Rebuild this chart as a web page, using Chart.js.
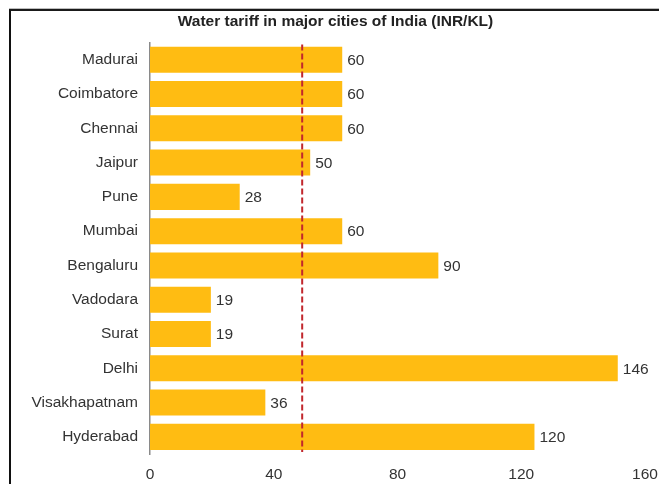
<!DOCTYPE html>
<html>
<head>
<meta charset="utf-8">
<script src="https://cdn.jsdelivr.net/npm/chart.js@4/dist/chart.umd.min.js"></script>
<style>
    html, body { margin: 0; padding: 0; background: #fff; }
    #wrap { position: relative; width: 659px; height: 484px; overflow: hidden; }
    /* page frame, left and top rules */
    #frame {
        position: absolute; left: 9px; top: 9px; width: 660px; height: 490px;
        border-left: 2px solid #111; border-top: 2px solid #1a1a1a;
        box-shadow: 0 -1px 0 #bdbdbd;
    }
    #chart { position: absolute; left: 0; top: 0; }
</style>
</head>
<body>
<div id="wrap">
    <div id="frame"></div>
    <canvas id="chart" width="659" height="484"></canvas>
</div>
<script>
const cities = ["Madurai", "Coimbatore", "Chennai", "Jaipur", "Pune", "Mumbai",
                "Bengaluru", "Vadodara", "Surat", "Delhi", "Visakhapatnam", "Hyderabad"];
const tariffs = [60, 60, 60, 50, 28, 60, 90, 19, 19, 146, 36, 120];
const axisTicks = [0, 40, 80, 120, 160];
const referenceLine = 47.5;

const FONT = "'Liberation Sans', Arial, Helvetica, sans-serif";
const BAR_COLOR = "#FFBC12";
const TEXT_COLOR = "#333333";

// value printed just past the end of each bar
const valueLabels = {
    id: 'valueLabels',
    afterDatasetsDraw(chart) {
        const ctx = chart.ctx;
        const meta = chart.getDatasetMeta(0);
        ctx.save();
        ctx.font = "15.5px " + FONT;
        ctx.fillStyle = TEXT_COLOR;
        ctx.textAlign = "left";
        ctx.textBaseline = "middle";
        meta.data.forEach((bar, i) => {
            ctx.fillText(String(tariffs[i]), bar.x + 5, bar.y + 1);
        });
        ctx.restore();
    }
};

// dashed vertical marker
const dashedMarker = {
    id: 'dashedMarker',
    afterDatasetsDraw(chart) {
        const ctx = chart.ctx;
        const area = chart.chartArea;
        const x = chart.scales.x.getPixelForValue(referenceLine);
        ctx.save();
        ctx.strokeStyle = "#C1272D";
        ctx.lineWidth = 2;
        ctx.setLineDash([6, 3]);
        ctx.beginPath();
        ctx.moveTo(x, area.top + 2);
        ctx.lineTo(x, area.bottom - 2);
        ctx.stroke();
        ctx.restore();
    }
};

new Chart(document.getElementById("chart"), {
    type: "bar",
    data: {
        labels: cities,
        datasets: [{
            data: tariffs,
            backgroundColor: BAR_COLOR,
            borderWidth: 0,
            barPercentage: 0.76,
            categoryPercentage: 1.0,
            xAxisID: "x",
            yAxisID: "y"
        }]
    },
    options: {
        indexAxis: "y",
        responsive: false,
        animation: false,
        layout: { padding: { left: 26, right: 14, top: 0, bottom: 0 } },
        plugins: {
            legend: { display: false },
            tooltip: { enabled: false },
            title: {
                display: true,
                text: "Water tariff in major cities of India (INR/KL)",
                color: "#222",
                font: { family: FONT, size: 15.5, weight: "bold" },
                padding: { top: 12, bottom: 12 }
            }
        },
        scales: {
            // value scale for the bars, not drawn
            x: {
                type: "linear",
                display: false,
                min: 0,
                max: 154.5
            },
            // printed axis along the bottom
            x2: {
                type: "linear",
                axis: "x",
                position: "bottom",
                min: axisTicks[0],
                max: axisTicks[axisTicks.length - 1],
                afterBuildTicks(scale) {
                    scale.ticks = axisTicks.map(v => ({ value: v }));
                },
                grid: { display: false, drawTicks: false },
                border: { display: false },
                ticks: {
                    color: TEXT_COLOR,
                    font: { family: FONT, size: 15.5 },
                    padding: 11,
                    maxRotation: 0
                },
                afterFit(scale) {
                    scale.height = 30;
                    // let the end labels hang into the layout padding
                    scale.paddingLeft = 0;
                    scale.paddingRight = 0;
                }
            },
            y: {
                type: "category",
                grid: { display: false, drawTicks: false },
                border: { display: true, color: "#8a8a8a", width: 1.5 },
                ticks: {
                    color: TEXT_COLOR,
                    font: { family: FONT, size: 15.5 },
                    padding: 12
                },
                afterFit(scale) { scale.width = 124; }
            }
        }
    },
    plugins: [valueLabels, dashedMarker]
});
</script>
</body>
</html>
